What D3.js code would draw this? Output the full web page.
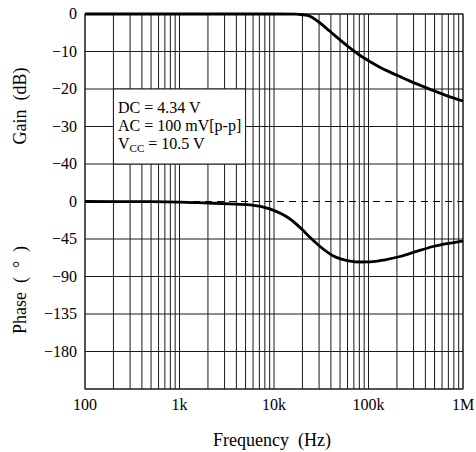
<!DOCTYPE html>
<html>
<head>
<meta charset="utf-8">
<script src="https://cdn.jsdelivr.net/npm/d3@7"></script>
<style>
  html, body { margin: 0; padding: 0; background: #fff; }
  svg { display: block; }
  text { font-family: "Liberation Serif", "Times New Roman", serif; fill: #000; }
</style>
</head>
<body>
<script>
// ---- data ----
const freqTicks = [100, 1000, 10000, 100000, 1000000];
const freqTickLabels = ["100", "1k", "10k", "100k", "1M"];
const gainTicks = [0, -10, -20, -30, -40];
const phaseTicks = [0, -45, -90, -135, -180];
const phaseBottom = -225;

const gainFreq = [100, 1000, 10000, 17000, 20000, 24000, 30000, 39000, 50000, 64000, 81000, 104000, 132000, 169000, 215000, 275000, 351000, 448000, 571000, 728000, 1000000];
const gainDb   = [0, 0, 0, -0.05, -0.2, -0.6, -2.2, -4.6, -6.9, -9.1, -11.0, -12.7, -14.2, -15.5, -16.7, -17.9, -19.0, -20.1, -21.1, -22.1, -23.2];

const phaseFreq = [100, 500, 1000, 2000, 3400, 5600, 9000, 14800, 20000, 24000, 30700, 42000, 64000, 81000, 104000, 150000, 215000, 310000, 482000, 728000, 1000000];
const phaseDeg  = [0, -0.2, -0.7, -1.9, -2.8, -4, -8.8, -21, -34, -43, -54, -65, -71.5, -72.6, -72.5, -70, -66, -60.5, -54, -50, -47.5];

const noteLines = ["DC = 4.34 V", "AC = 100 mV[p-p]"];
const vccLabel = ["V", "CC", " = 10.5 V"];

// ---- layout ----
const W = 476, H = 452;
const L = 85, R = 463, T = 14, B = 389;
const mid = 201.5;

const svg = d3.select("body").append("svg").attr("width", W).attr("height", H);

const x = d3.scaleLog().domain([100, 1000000]).range([L, R]);
const yG = d3.scaleLinear().domain([0, -50]).range([T, mid]);
const yP = d3.scaleLinear().domain([0, phaseBottom]).range([mid, B]);

const gridColor = "#1a1a1a";

// vertical grid lines
svg.append("g").selectAll("line").data(x.ticks()).join("line")
  .attr("x1", d => x(d)).attr("x2", d => x(d))
  .attr("y1", T).attr("y2", B)
  .attr("stroke", gridColor).attr("stroke-width", 1);

// horizontal grid lines (phase 0 is drawn dashed separately)
const hLines = gainTicks.map(v => yG(v)).concat(phaseTicks.filter(v => v !== 0).map(v => yP(v)), [yP(phaseBottom)]);
svg.append("g").selectAll("line").data(hLines).join("line")
  .attr("x1", L).attr("x2", R)
  .attr("y1", d => d).attr("y2", d => d)
  .attr("stroke", gridColor).attr("stroke-width", 1);

// frame
svg.append("rect").attr("x", L).attr("y", T).attr("width", R - L).attr("height", B - T)
  .attr("fill", "none").attr("stroke", gridColor).attr("stroke-width", 1);

// note box
svg.append("rect")
  .attr("x", x(200)).attr("y", yG(-20))
  .attr("width", x(5000) - x(200)).attr("height", yG(-40) - yG(-20))
  .attr("fill", "#fff").attr("stroke", gridColor).attr("stroke-width", 1);

const noteG = svg.append("g").attr("font-size", 16);
noteLines.forEach((s, i) => {
  noteG.append("text").attr("x", 118).attr("y", 113 + i * 18).text(s);
});
const vt = noteG.append("text").attr("x", 118).attr("y", 149);
vt.append("tspan").text(vccLabel[0]);
vt.append("tspan").attr("font-size", 11).attr("dy", 3).text(vccLabel[1]);
vt.append("tspan").attr("dy", -3).text(vccLabel[2]);

// dashed zero-phase reference
svg.append("line").attr("x1", L).attr("x2", R).attr("y1", yP(0)).attr("y2", yP(0))
  .attr("stroke", "#000").attr("stroke-width", 1.2).attr("stroke-dasharray", "7,5");

// curves
const gainData = gainFreq.map((f, i) => [f, gainDb[i]]);
const phaseData = phaseFreq.map((f, i) => [f, phaseDeg[i]]);

svg.append("path").datum(gainData)
  .attr("d", d3.line().x(d => x(d[0])).y(d => yG(d[1])).curve(d3.curveMonotoneX))
  .attr("fill", "none").attr("stroke", "#000").attr("stroke-width", 2.8);

svg.append("path").datum(phaseData)
  .attr("d", d3.line().x(d => x(d[0])).y(d => yP(d[1])).curve(d3.curveMonotoneX))
  .attr("fill", "none").attr("stroke", "#000").attr("stroke-width", 2.8);

// y tick labels
const fmt = v => v < 0 ? "\u2212" + Math.abs(v) : String(v);
const yl = svg.append("g").attr("font-size", 16).attr("text-anchor", "end");
gainTicks.forEach(v => yl.append("text").attr("x", 77).attr("y", yG(v) + 5).text(fmt(v)));
phaseTicks.forEach(v => yl.append("text").attr("x", 77).attr("y", yP(v) + 5).text(fmt(v)));

// x tick labels
const xl = svg.append("g").attr("font-size", 16).attr("text-anchor", "middle");
freqTicks.forEach((f, i) => xl.append("text").attr("x", x(f)).attr("y", 410).text(freqTickLabels[i]));

// axis titles
svg.append("text").attr("font-size", 18).attr("text-anchor", "middle")
  .attr("x", 272).attr("y", 446).attr("xml:space", "preserve").text("Frequency  (Hz)");

svg.append("text").attr("font-size", 18).attr("text-anchor", "middle")
  .attr("transform", "translate(26,106) rotate(-90)")
  .attr("xml:space", "preserve").text("Gain  (dB)");

svg.append("text").attr("font-size", 18).attr("text-anchor", "middle")
  .attr("transform", "translate(26,290) rotate(-90)")
  .attr("xml:space", "preserve").text("Phase  (  \u00B0  )");
</script>
</body>
</html>
